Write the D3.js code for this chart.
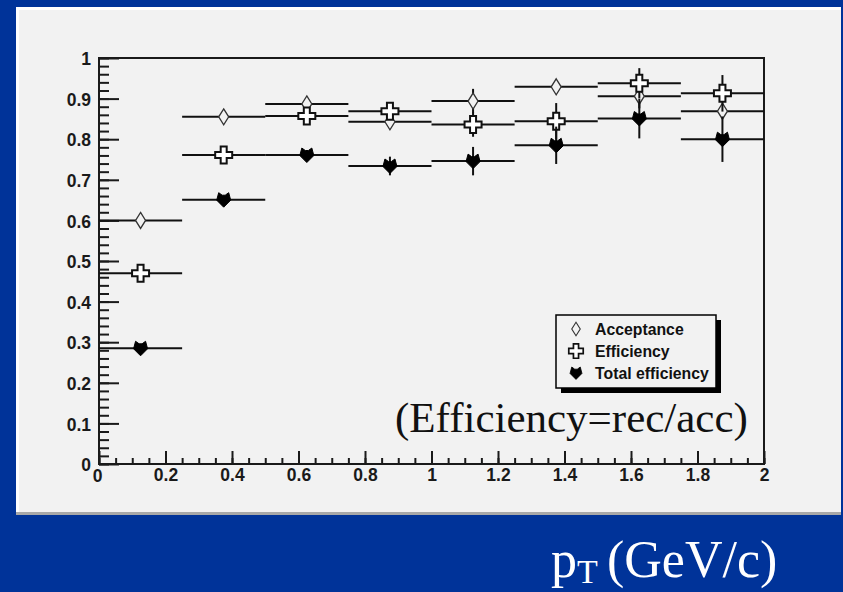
<!DOCTYPE html>
<html>
<head>
<meta charset="utf-8">
<script src="https://cdn.jsdelivr.net/npm/d3@7"></script>
<style>
  html, body { margin: 0; padding: 0; background: #003399; }
  svg { display: block; }
</style>
</head>
<body>
<svg id="chart" width="843" height="592"></svg>
<script>
// bins in pT (GeV/c), width 0.25
const binLow = [0, 0.25, 0.5, 0.75, 1.0, 1.25, 1.5, 1.75];
const binWidth = 0.25;

const acceptance    = [0.600, 0.855, 0.887, 0.843, 0.894, 0.929, 0.906, 0.869];
const acceptanceErr = [0.005, 0.005, 0.010, 0.010, 0.030, 0.010, 0.030, 0.010];
const efficiency    = [0.470, 0.761, 0.857, 0.869, 0.836, 0.844, 0.938, 0.913];
const efficiencyErr = [0.005, 0.008, 0.012, 0.020, 0.030, 0.045, 0.037, 0.045];
const totalEff      = [0.285, 0.651, 0.761, 0.734, 0.746, 0.785, 0.851, 0.800];
const totalEffErr   = [0.008, 0.010, 0.012, 0.023, 0.035, 0.046, 0.049, 0.056];

const yTicks = [0, 0.1, 0.2, 0.3, 0.4, 0.5, 0.6, 0.7, 0.8, 0.9, 1];
const xTicks = [0, 0.2, 0.4, 0.6, 0.8, 1, 1.2, 1.4, 1.6, 1.8, 2];
const legendLabels = ["Acceptance", "Efficiency", "Total efficiency"];

const svg = d3.select("#chart");
const panelColor = "#f2f2f2";

// slide background + canvas panel
svg.append("rect").attr("width", 843).attr("height", 592).attr("fill", "#003399");
svg.append("rect").attr("x", 16).attr("y", 7).attr("width", 825).attr("height", 508).attr("fill", "#a8a8a8");
svg.append("rect").attr("x", 16).attr("y", 7).attr("width", 825).attr("height", 505).attr("fill", "#ffffff");
svg.append("rect").attr("x", 19).attr("y", 10).attr("width", 822).attr("height", 502).attr("fill", panelColor);

const x = d3.scaleLinear().domain([0, 2]).range([99, 764]);
const y = d3.scaleLinear().domain([0, 1]).range([464, 58]);

const fmt = d => d === 0 ? "0" : (Number.isInteger(d) ? String(d) : d.toFixed(1));

// minor ticks
svg.append("g")
  .attr("transform", `translate(${x(0)},0)`)
  .call(d3.axisLeft(y).tickValues(d3.range(0, 1.0001, 0.02)).tickSizeInner(-10).tickSizeOuter(0).tickFormat(""))
  .call(g => g.select(".domain").remove())
  .call(g => g.selectAll("line").attr("stroke", "#1a1a1a").attr("stroke-width", 2));

svg.append("g")
  .attr("transform", `translate(0,${y(0)})`)
  .call(d3.axisBottom(x).tickValues(d3.range(0, 2.0001, 0.05)).tickSizeInner(-6).tickSizeOuter(0).tickFormat(""))
  .call(g => g.select(".domain").remove())
  .call(g => g.selectAll("line").attr("stroke", "#1a1a1a").attr("stroke-width", 2));

// major ticks + labels
svg.append("g")
  .attr("transform", `translate(${x(0)},0)`)
  .call(d3.axisLeft(y).tickValues(yTicks).tickSizeInner(-20).tickSizeOuter(0).tickPadding(8).tickFormat(fmt))
  .call(g => g.select(".domain").remove())
  .call(g => g.selectAll("line").attr("stroke", "#1a1a1a").attr("stroke-width", 2))
  .call(g => g.selectAll("text")
    .attr("font-family", "Liberation Sans, Arial, sans-serif")
    .attr("font-weight", "bold").attr("font-size", 17.5).attr("fill", "#1a1a1a")
    .attr("dy", "0.38em"));

svg.append("g")
  .attr("transform", `translate(0,${y(0)})`)
  .call(d3.axisBottom(x).tickValues(xTicks).tickSizeInner(-13).tickSizeOuter(0).tickPadding(5).tickFormat(fmt))
  .call(g => g.select(".domain").remove())
  .call(g => g.selectAll("line").attr("stroke", "#1a1a1a").attr("stroke-width", 2))
  .call(g => g.selectAll("text")
    .attr("font-family", "Liberation Sans, Arial, sans-serif")
    .attr("font-weight", "bold").attr("font-size", 17.5).attr("fill", "#1a1a1a")
    .attr("y", 5).attr("dy", "0.71em"))
  .call(g => g.selectAll(".tick").filter(d => d === 0).select("text").attr("x", -2).attr("y", 6));

// frame
svg.append("rect")
  .attr("x", x(0)).attr("y", y(1))
  .attr("width", x(2) - x(0)).attr("height", y(0) - y(1))
  .attr("fill", "none").attr("stroke", "#1a1a1a").attr("stroke-width", 2);

// marker shapes
const crossPath = (a, L) =>
  `M${-a},${-L}H${a}V${-a}H${L}V${a}H${a}V${L}H${-a}V${a}H${-L}V${-a}H${-a}Z`;
const markers = {
  diamond: { d: "M0,-8L5,0L0,8L-5,0Z", fill: panelColor, stroke: "#333", sw: 1.3 },
  cross: { d: crossPath(3, 8.5), fill: "#ffffff", stroke: "#111", sw: 2 },
  bat: { d: "M-5,-7L-1.5,-4.5L1.5,-4.5L5,-7L7,0.5L0,7.5L-7,0.5Z", fill: "#000", stroke: "#000", sw: 1 }
};

const series = [
  { values: acceptance, errs: acceptanceErr, marker: "diamond" },
  { values: efficiency, errs: efficiencyErr, marker: "cross" },
  { values: totalEff, errs: totalEffErr, marker: "bat" }
];

series.forEach(s => {
  const g = svg.append("g");
  const pts = binLow.map((lo, i) => ({ lo, hi: lo + binWidth, c: lo + binWidth / 2, v: s.values[i], e: s.errs[i] }));
  g.selectAll("line.h").data(pts).join("line")
    .attr("x1", d => x(d.lo)).attr("x2", d => x(d.hi))
    .attr("y1", d => y(d.v)).attr("y2", d => y(d.v))
    .attr("stroke", "#111").attr("stroke-width", 2);
  g.selectAll("line.v").data(pts).join("line")
    .attr("x1", d => x(d.c)).attr("x2", d => x(d.c))
    .attr("y1", d => y(d.v - d.e)).attr("y2", d => y(d.v + d.e))
    .attr("stroke", "#111").attr("stroke-width", 2);
  const m = markers[s.marker];
  g.selectAll("path").data(pts).join("path")
    .attr("transform", d => `translate(${x(d.c)},${y(d.v)})`)
    .attr("d", m.d).attr("fill", m.fill).attr("stroke", m.stroke).attr("stroke-width", m.sw);
});

// legend
const leg = svg.append("g").attr("transform", "translate(556,315)");
leg.append("rect").attr("x", 5).attr("y", 5).attr("width", 160).attr("height", 73).attr("fill", "#000");
leg.append("rect").attr("width", 160).attr("height", 73).attr("fill", panelColor).attr("stroke", "#000").attr("stroke-width", 1.5);
legendLabels.forEach((label, i) => {
  const m = markers[series[i].marker];
  const cy = 14 + i * 22;
  leg.append("path").attr("transform", `translate(20,${cy}) scale(0.85)`)
    .attr("d", m.d).attr("fill", m.fill).attr("stroke", m.stroke).attr("stroke-width", m.sw);
  leg.append("text").attr("x", 39).attr("y", cy + 5.5)
    .attr("font-family", "Liberation Sans, Arial, sans-serif")
    .attr("font-weight", "bold").attr("font-size", 15.8).attr("fill", "#111")
    .text(label);
});

// annotation
svg.append("text").attr("x", 395).attr("y", 432)
  .attr("font-family", "Liberation Serif, Times New Roman, serif")
  .attr("font-size", 43).attr("fill", "#111")
  .text("(Efficiency=rec/acc)");

// axis title on the slide
const title = svg.append("text")
  .attr("font-family", "Liberation Serif, Times New Roman, serif")
  .attr("fill", "#ffffff");
title.append("tspan").attr("x", 551).attr("y", 577).attr("font-size", 52).text("p");
title.append("tspan").attr("x", 577).attr("y", 583).attr("font-size", 34).text("T");
title.append("tspan").attr("x", 607).attr("y", 577).attr("font-size", 52).text("(GeV/c)");
</script>
</body>
</html>
